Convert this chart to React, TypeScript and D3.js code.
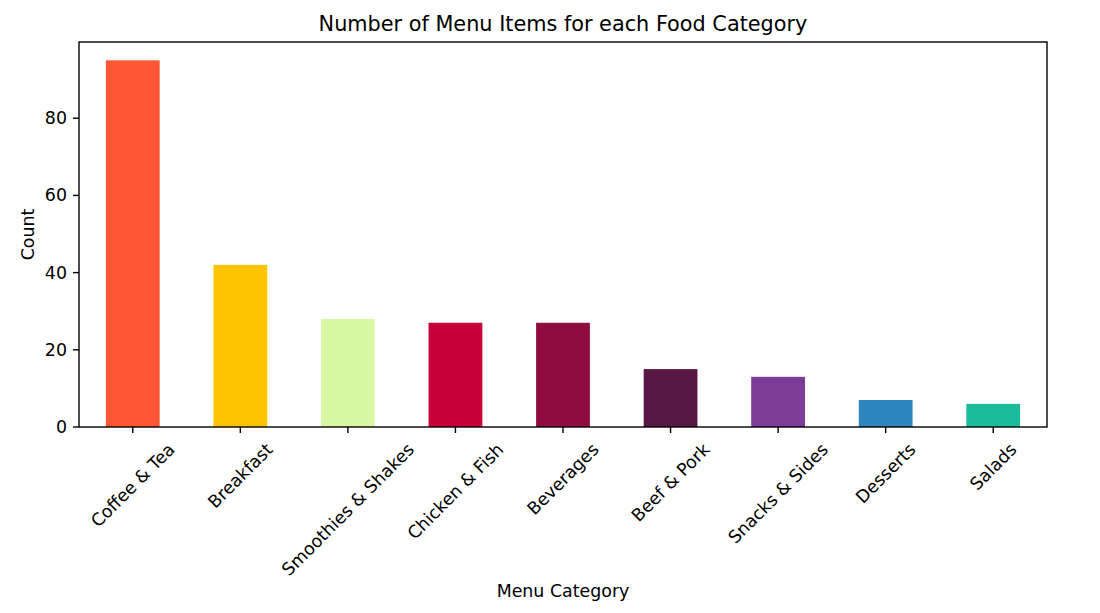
import React from "react";
import * as d3 from "d3";

const categories = ["Coffee & Tea", "Breakfast", "Smoothies & Shakes", "Chicken & Fish", "Beverages", "Beef & Pork", "Snacks & Sides", "Desserts", "Salads"];
const counts = [95, 42, 28, 27, 27, 15, 13, 7, 6];
const colors = ["#FF5733", "#FFC300", "#DAF7A6", "#C70039", "#900C3F", "#581845", "#7D3C98", "#2E86C1", "#1ABC9C"];
const yTicks = [0, 20, 40, 60, 80];

const W = 1100, H = 613;
const M = { left: 79, right: 1047, top: 42, bottom: 427 };
const FONT = "'DejaVu Sans', sans-serif";
const TICK_FS = 17.4;
const TITLE_FS = 20.8;

let ctx: CanvasRenderingContext2D | null = null;
function measure(t: string, fs: number) {
  if (!ctx) ctx = document.createElement("canvas").getContext("2d");
  ctx!.font = `${fs}px 'DejaVu Sans'`;
  return ctx!.measureText(t).width;
}

export default function App() {
  const x = d3.scaleBand<string>().domain(categories).range([M.left, M.right]).paddingInner(0.5).paddingOuter(0.25);
  const y = d3.scaleLinear().domain([0, d3.max(counts)! * 1.05]).range([M.bottom, M.top]);
  const tickLen = 6;
  const labTop = M.bottom + tickLen + 7;
  const sw = 1.4;
  return (
    <svg width={W} height={H} style={{ position: "absolute", left: 0, top: 0, background: "#fff", fontFamily: FONT }}>
      {categories.map((c, i) => (
        <rect key={c} x={x(c)!} y={y(counts[i])} width={x.bandwidth()} height={y(0) - y(counts[i])} fill={colors[i]} />
      ))}
      <rect x={M.left} y={M.top} width={M.right - M.left} height={M.bottom - M.top} fill="none" stroke="#000" strokeWidth={sw} />
      {yTicks.map((t) => (
        <g key={t}>
          <line x1={M.left - tickLen} x2={M.left} y1={y(t)} y2={y(t)} stroke="#000" strokeWidth={sw} />
          <text x={M.left - tickLen - 6} y={y(t)} textAnchor="end" dominantBaseline="central" fontSize={TICK_FS} fill="#000">{t}</text>
        </g>
      ))}
      {categories.map((c) => {
        const cx = x(c)! + x.bandwidth() / 2;
        const w = measure(c, TICK_FS);
        const h = TICK_FS * 1.05;
        const bb = (w + h) / Math.SQRT2;
        const cy = labTop + bb / 2;
        return (
          <g key={c}>
            <line x1={cx} x2={cx} y1={M.bottom} y2={M.bottom + tickLen} stroke="#000" strokeWidth={sw} />
            <text x={cx} y={cy} textAnchor="middle" dominantBaseline="central" fontSize={TICK_FS} fill="#000" transform={`rotate(-45 ${cx} ${cy})`}>{c}</text>
          </g>
        );
      })}
      <text x={(M.left + M.right) / 2} y={31} textAnchor="middle" fontSize={TITLE_FS} fill="#000">Number of Menu Items for each Food Category</text>
      <text x={(M.left + M.right) / 2} y={597} textAnchor="middle" fontSize={TICK_FS} fill="#000">Menu Category</text>
      <text transform={`translate(34 ${(M.top + M.bottom) / 2}) rotate(-90)`} textAnchor="middle" fontSize={TICK_FS} fill="#000">Count</text>
    </svg>
  );
}
